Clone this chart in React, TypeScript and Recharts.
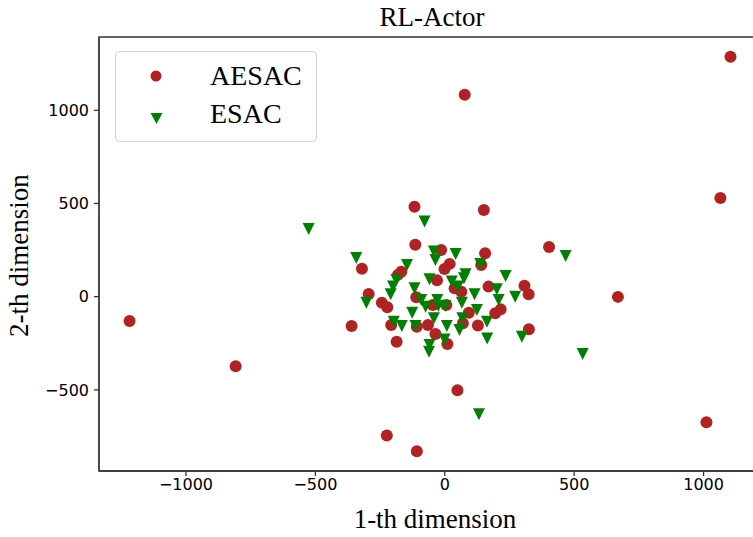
import React from 'react';
import { ScatterChart, Scatter, XAxis, YAxis, ReferenceArea, Legend } from 'recharts';

const seriesNames = ['AESAC', 'ESAC'];
const seriesColors = ['#B22222', '#008000'];

const aesacPoints: [number, number][] = [
  [1104, 1287], [77, 1083], [1065, 529], [-117, 482], [151, 465], [-1218, -131],
  [-808, -373], [-224, -744], [-108, -829], [49, -502], [1011, -674], [669, -1],
  [403, 267], [-360, -157],
  [-114, 278], [-14, 251], [156, 233], [19, 176], [-1, 149], [141, 170], [-320, 150],
  [-168, 134], [-181, 117], [-30, 88], [169, 54], [308, 59], [324, 13], [38, 45],
  [64, 27], [-294, 14], [-110, -3], [-243, -32], [-222, -57], [-46, -45], [6, -45],
  [93, -86], [195, -89], [216, -68], [-207, -152], [-108, -161], [-65, -152],
  [70, -143], [128, -154], [-36, -200], [325, -175], [-186, -242], [10, -254],
];

const esacPoints: [number, number][] = [
  [-526, 363], [467, 218], [533, -308], [132, -631], [-342, 207],
  [-78, 403], [-42, 242], [-36, 197], [42, 229], [137, 176], [-146, 170], [80, 120],
  [74, 99], [235, 111], [-59, 93], [27, 81], [51, 54], [-187, 90], [-200, 54],
  [-209, 13], [-117, 45], [201, 40], [115, 13], [272, 0], [208, -18], [-303, -32],
  [-91, -18], [-74, -54], [-29, -18], [-25, -48], [2, -50], [66, -32], [-126, -86],
  [124, -71], [-42, -116], [68, -116], [163, -134], [-197, -134], [-166, -157],
  [-113, -157], [8, -157], [57, -179], [164, -224], [298, -215], [-1, -229],
  [-59, -259], [-61, -295],
];

const xTicks = [-1000, -500, 0, 500, 1000];
const yTicks = [-500, 0, 500, 1000];
const xDomain: [number, number] = [-1336, 1218];
const yDomain: [number, number] = [-935, 1393];

const toData = (pts: [number, number][]) => pts.map(([x, y]) => ({ x, y }));
const aesacData = toData(aesacPoints);
const esacData = toData(esacPoints);

const fmt = (v: number) => (v < 0 ? '\u2212' + Math.abs(v) : String(v));

const CircleShape = (p: any) => <circle cx={p.cx} cy={p.cy} r={6} fill={seriesColors[0]} />;
const TriShape = (p: any) => {
  const s = 6;
  return (
    <path
      d={`M${p.cx - s},${p.cy - s}L${p.cx + s},${p.cy - s}L${p.cx},${p.cy + s}Z`}
      fill={seriesColors[1]}
    />
  );
};

const serif = '"Liberation Serif", "Times New Roman", serif';
const tickStyle = { fontFamily: '"DejaVu Sans", sans-serif', fontSize: 16, fill: '#000' };

const LegendBox = () => (
  <div
    style={{
      position: 'relative',
      width: 202,
      height: 91,
      border: '1px solid #d4d4d4',
      borderRadius: 4,
      background: '#fff',
      boxSizing: 'border-box',
    }}
  >
    <svg width={202} height={91} style={{ position: 'absolute', left: -1, top: -1 }}>
      <circle cx={41} cy={25} r={5.5} fill={seriesColors[0]} />
      <path d="M35.5,62L47.5,62L41.5,73Z" fill={seriesColors[1]} />
    </svg>
    <div style={{ position: 'absolute', left: 94, top: 9.5, fontFamily: serif, fontSize: 28, lineHeight: '28px', color: '#000', whiteSpace: 'nowrap' }}>
      {seriesNames[0]}
    </div>
    <div style={{ position: 'absolute', left: 94, top: 47.5, fontFamily: serif, fontSize: 28, lineHeight: '28px', color: '#000', whiteSpace: 'nowrap' }}>
      {seriesNames[1]}
    </div>
  </div>
);

export default function App() {
  return (
    <div style={{ position: 'absolute', left: 0, top: 0, width: 753, height: 537, overflow: 'hidden', background: '#fff' }}>
      <ScatterChart width={800} height={537} margin={{ top: 37, right: 40, bottom: 36, left: 0 }}>
        <XAxis
          type="number"
          dataKey="x"
          domain={xDomain}
          ticks={xTicks}
          allowDataOverflow
          height={30}
          tickSize={5}
          tickMargin={3}
          tick={tickStyle}
          tickFormatter={fmt}
          stroke="#333"
          axisLine={{ strokeWidth: 1.3 }}
          tickLine={{ strokeWidth: 1.3 }}
        />
        <YAxis
          type="number"
          dataKey="y"
          domain={yDomain}
          ticks={yTicks}
          allowDataOverflow
          width={99}
          tickSize={5}
          tickMargin={5}
          tick={tickStyle}
          tickFormatter={fmt}
          stroke="#333"
          axisLine={{ strokeWidth: 1.3 }}
          tickLine={{ strokeWidth: 1.3 }}
        />
        <ReferenceArea
          x1={xDomain[0]}
          x2={xDomain[1]}
          y1={yDomain[0]}
          y2={yDomain[1]}
          fill="none"
          fillOpacity={0}
          stroke="#333"
          strokeWidth={1.3}
          ifOverflow="visible"
        />
        <Scatter name={seriesNames[0]} data={aesacData} fill={seriesColors[0]} shape={CircleShape} isAnimationActive={false} />
        <Scatter name={seriesNames[1]} data={esacData} fill={seriesColors[1]} shape={TriShape} isAnimationActive={false} />
        <Legend
          layout="vertical"
          align="center"
          verticalAlign="middle"
          content={() => <LegendBox />}
          wrapperStyle={{ left: 115, top: 51, width: 202, height: 91 }}
        />
      </ScatterChart>
      <div style={{ position: 'absolute', left: 232, top: 3.5, width: 400, textAlign: 'center', fontFamily: serif, fontSize: 27, lineHeight: '27px', color: '#000' }}>
        RL-Actor
      </div>
      <div style={{ position: 'absolute', left: 235, top: 505.5, width: 400, textAlign: 'center', fontFamily: serif, fontSize: 27, lineHeight: '27px', color: '#000' }}>
        1-th dimension
      </div>
      <div
        style={{
          position: 'absolute',
          left: 19 - 120,
          top: 255 - 13.5,
          width: 240,
          height: 27,
          textAlign: 'center',
          fontFamily: serif,
          fontSize: 27,
          lineHeight: '27px',
          color: '#000',
          transform: 'rotate(-90deg)',
        }}
      >
        2-th dimension
      </div>
    </div>
  );
}
